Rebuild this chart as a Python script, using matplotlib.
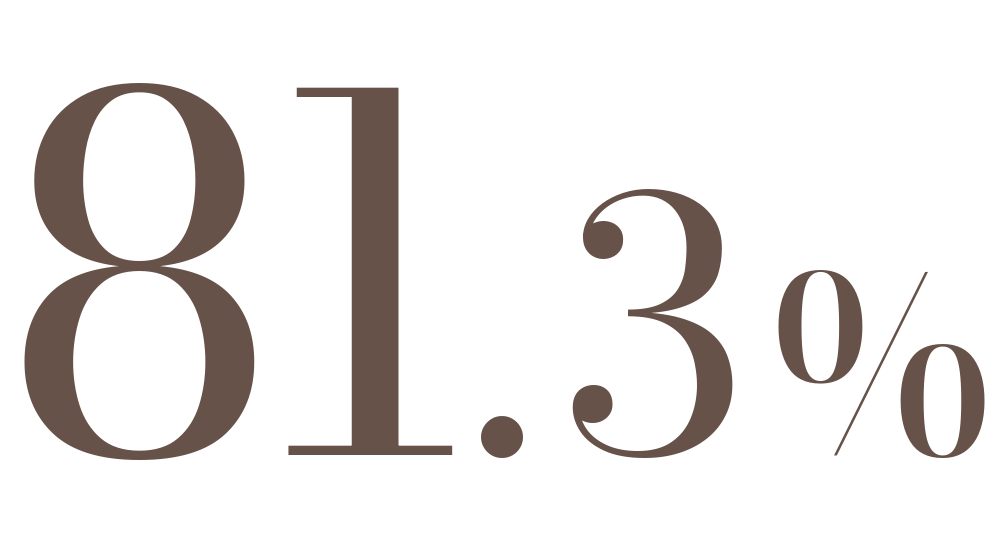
import matplotlib
matplotlib.use("Agg")
import matplotlib.pyplot as plt

# Wert in Teilen
value_int = ["8", "1"]
value_sep = "."
value_dec = ["3"]
unit = "%"

colour = "#665249"

fig = plt.figure(figsize=(10, 5.42), dpi=100)
fig.patch.set_facecolor("white")

baseline = 1 - 455 / 542

# (text, x-center in px, font size, family)
parts = []
parts.append((value_int[0], 139, 352, "Bodoni Moda"))
parts.append((value_int[1], 370, 352, "Bodoni Moda"))
parts.append((value_sep, 502, 252, "Bodoni Moda"))
parts.append((value_dec[0], 654, 252, "Bodoni Moda"))
parts.append((unit, 881, 184, "Noto Serif Display"))

for txt, xc, size, fam in parts:
    fig.text(xc / 1000, baseline, txt, ha="center", va="baseline",
             fontsize=size, color=colour, family=[fam, "DejaVu Serif"])

fig.savefig("out.png", dpi=100, facecolor="white")
